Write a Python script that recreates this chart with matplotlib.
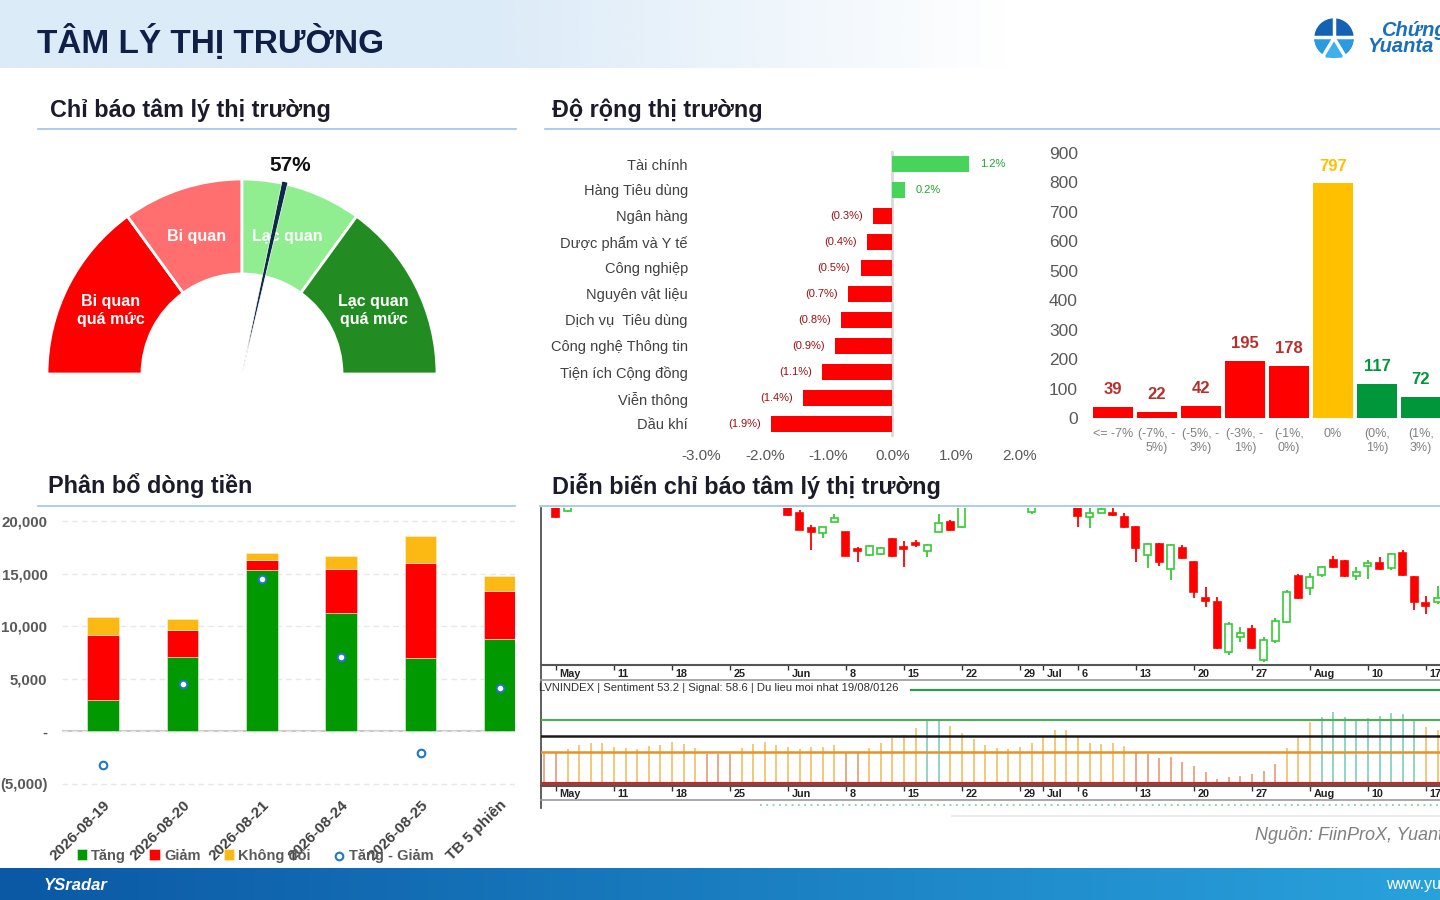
import numpy as np
import matplotlib
matplotlib.use("Agg")
import matplotlib.pyplot as plt
from matplotlib.patches import Wedge, Polygon, Circle
from matplotlib.ticker import FuncFormatter
from matplotlib.colors import to_rgb

plt.rcParams['font.family'] = ['Liberation Sans', 'DejaVu Sans']
plt.rcParams['axes.facecolor'] = 'none'

W, H = 1440, 900

# ---------------------------------------------------------------
# Data
# ---------------------------------------------------------------

# sentiment gauge (percent)
gauge_bounds = [0, 30, 50, 70, 100]
gauge_labels = ["Bi quan\nquá mức", "Bi quan", "Lạc quan", "Lạc quan\nquá mức"]
gauge_value = 57

# sector breadth (% change)
sectors = ["Tài chính", "Hàng Tiêu dùng", "Ngân hàng", "Dược phẩm và Y tế",
           "Công nghiệp", "Nguyên vật liệu", "Dịch vụ  Tiêu dùng",
           "Công nghệ Thông tin", "Tiện ích Cộng đồng", "Viễn thông", "Dầu khí"]
sector_change = [1.2, 0.2, -0.3, -0.4, -0.5, -0.7, -0.8, -0.9, -1.1, -1.4, -1.9]

# number of stocks per price-change range
range_labels = ["<= -7%", "(-7%, -\n5%)", "(-5%, -\n3%)", "(-3%, -\n1%)",
                "(-1%,\n0%)", "0%", "(0%,\n1%)", "(1%,\n3%)"]
range_counts = [39, 22, 42, 195, 178, 797, 117, 72]

# money flow (billion VND)
flow_labels = ["2026-08-19", "2026-08-20", "2026-08-21", "2026-08-24",
               "2026-08-25", "TB 5 phiên"]
flow_up = [3000, 7070, 15380, 11210, 6940, 8730]
flow_down = [6170, 2610, 960, 4270, 9050, 4650]
flow_flat = [1720, 960, 600, 1240, 2640, 1400]
flow_net = [-3250, 4490, 14520, 7100, -2070, 4110]

# VNINDEX candles (trading-day index, OHLC)
candle_day = [0, 1, 20, 21, 22, 23, 24, 25, 26, 27, 28, 29, 30, 31, 32, 33, 34, 35,
              41, 45, 46, 47, 48, 49, 50, 51, 52, 53, 54, 55, 56, 57, 58, 59, 60,
              61, 62, 63, 64, 65, 66, 67, 68, 69, 70, 71, 72, 73, 74, 75, 76]
candle_open = [1300, 1289, 1300, 1287, 1272, 1267, 1278, 1268, 1251, 1245, 1246, 1261,
               1253, 1257, 1249, 1268, 1278, 1273, 1288, 1295, 1283, 1287, 1287, 1283,
               1273, 1245, 1256, 1231, 1252, 1238, 1202, 1198, 1148, 1163, 1171, 1140,
               1159, 1178, 1224, 1212, 1225, 1240, 1239, 1224, 1234, 1237, 1232, 1247,
               1223, 1197, 1198]
candle_high = [1305, 1300, 1304, 1290, 1275, 1273, 1286, 1268, 1253, 1255, 1253, 1262,
               1259, 1260, 1256, 1286, 1280, 1300, 1296, 1298, 1292, 1294, 1292, 1287,
               1274, 1257, 1257, 1256, 1255, 1239, 1213, 1203, 1178, 1173, 1175, 1163,
               1182, 1210, 1226, 1227, 1234, 1244, 1240, 1233, 1240, 1243, 1247, 1250,
               1224, 1204, 1214]
candle_low = [1282, 1288, 1284, 1270, 1250, 1262, 1278, 1244, 1238, 1244, 1245, 1243,
              1233, 1253, 1243, 1268, 1269, 1272, 1286, 1273, 1272, 1286, 1284, 1272,
              1238, 1232, 1234, 1220, 1241, 1202, 1193, 1151, 1145, 1158, 1151, 1138,
              1157, 1177, 1201, 1205, 1223, 1232, 1223, 1220, 1221, 1230, 1230, 1224,
              1190, 1186, 1196]
candle_close = [1283, 1295, 1285, 1270, 1268, 1273, 1282, 1244, 1249, 1254, 1252, 1244,
                1251, 1255, 1255, 1277, 1270, 1295, 1294, 1284, 1287, 1291, 1285, 1273,
                1252, 1256, 1238, 1255, 1242, 1208, 1199, 1152, 1176, 1167, 1152, 1160,
                1179, 1208, 1202, 1223, 1233, 1233, 1224, 1228, 1237, 1231, 1246, 1225,
                1198, 1194, 1202]

# sentiment indicator (one value per trading day, starting at day -1)
sent_start = -1
sent_values = [37.5, 39, 44, 49, 51, 51, 46, 45, 44, 47.5, 49, 52.5, 50, 45, 37.5, 37.5,
               37.5, 45, 50, 52.5, 49, 46, 44, 46, 46, 49, 39, 39, 45, 51, 57.5, 61,
               70, 81, 81, 72.5, 64, 56, 49, 45, 44, 46, 51, 60, 67.5, 67.5, 59, 51,
               50, 51, 47.5, 39, 37.5, 32.5, 34, 27.5, 22.5, 15, 6, 9, 10, 12.5, 16,
               25, 45, 60, 78, 84, 90, 84, 81, 82, 85, 89, 87.5, 81, 71, 67.5]
sent_levels = [80, 60, 40, 0]

tick_days = [0, 5, 10, 15, 20, 25, 30, 35, 40, 42, 45, 50, 55, 60, 65, 70, 75]
tick_labels = ["May", "11", "18", "25", "Jun", "8", "15", "22", "29", "Jul",
               "6", "13", "20", "27", "Aug", "10", "17"]

# ---------------------------------------------------------------
# Helpers
# ---------------------------------------------------------------

def px_axes(fig, x0, y0, x1, y1, **kw):
    return fig.add_axes([x0 / W, 1 - y1 / H, (x1 - x0) / W, (y1 - y0) / H], **kw)


def hide_spines(ax):
    for s in ax.spines.values():
        s.set_visible(False)

# ---------------------------------------------------------------
# Page background, header, footer, section titles
# ---------------------------------------------------------------

def draw_page(fig):
    bg = px_axes(fig, 0, 0, W, H, zorder=-1)

    # header band fading to white
    n = 400
    xs = np.linspace(0, W, n)
    img = np.zeros((1, n, 4))
    img[..., :3] = to_rgb('#dcebf8')
    img[0, :, 3] = np.clip((1010 - xs) / 520, 0, 1)
    bg.imshow(img, extent=(0, W, 68, 0), aspect='auto', interpolation='bilinear')

    # footer band
    c0, c1 = np.array(to_rgb('#0b58a4')), np.array(to_rgb('#29a2dc'))
    t = np.linspace(0, 1, n)[:, None]
    foot = (c0 * (1 - t) + c1 * t)[None, :, :]
    bg.imshow(foot, extent=(0, W, 900, 868), aspect='auto', interpolation='bilinear')

    bg.set_xlim(0, W)
    bg.set_ylim(H, 0)
    bg.axis('off')

    bg.text(37, 42, "TÂM LÝ THỊ TRƯỜNG", fontsize=24, fontweight='bold',
            color='#0f1f45', va='center')

    # logo
    bg.add_patch(Circle((1334, 38), 19, color='#1462b4'))
    bg.add_patch(Wedge((1334, 38), 19, 0, 180, color='#2a9be0'))
    bg.plot([1334, 1334], [18, 37], color='white', lw=2.5)
    bg.plot([1314, 1354], [37, 37], color='white', lw=2.5)
    bg.plot([1322, 1334, 1346], [58, 38, 58], color='white', lw=2.5)
    bg.add_patch(Polygon([(1334, 42), (1326, 57), (1342, 57)], color='#3fb0ec'))
    bg.text(1381, 30, "Chứng", fontsize=14.5, fontweight='bold', style='italic',
            color='#1a6fc0', va='center')
    bg.text(1367, 47, "Yuanta", fontsize=14.5, fontweight='bold', style='italic',
            color='#1a6fc0', va='center')

    # section titles
    titles = [(50, 110, 38, 516, 129, "Chỉ báo tâm lý thị trường"),
              (552, 110, 545, 1440, 129, "Độ rộng thị trường"),
              (48, 486, 38, 515, 506, "Phân bổ dòng tiền"),
              (552, 486, 540, 1440, 506, "Diễn biến chỉ báo tâm lý thị trường")]
    for tx, ty, lx0, lx1, ly, txt in titles:
        bg.text(tx, ty, txt, fontsize=16.8, fontweight='bold', color='#1b1b2b', va='center')
        bg.plot([lx0, lx1], [ly, ly], color='#9dc3e6', lw=1.2)

    # sentiment chart frame pieces
    bg.plot([541, 541], [508, 808], color='#444444', lw=1.2)
    bg.plot([911, W], [690, 690], color='#2e9e4e', lw=1.6)
    bg.plot([760, W], [805, 805], color='#7fd3a0', lw=1.3, ls=(0, (1, 2.5)))
    bg.text(539, 688, "LVNINDEX | Sentiment 53.2 | Signal: 58.6 | Du lieu moi nhat 19/08/0126",
            fontsize=8.1, color='#303030', va='center')

    # source and footer text
    bg.plot([952, W], [816, 816], color='#ebebeb', lw=1.5)
    bg.text(1255, 835, "Nguồn: FiinProX, Yuanta", fontsize=13, style='italic',
            color='#808080', va='center')
    bg.text(44, 886, "YSradar", fontsize=12, fontweight='bold', style='italic',
            color='white', va='center')
    bg.text(1386, 885, "www.yuanta", fontsize=11.5, color='white', va='center')

# ---------------------------------------------------------------
# Sentiment gauge
# ---------------------------------------------------------------

def draw_gauge(fig):
    ax = px_axes(fig, 30, 140, 460, 390)
    ax.set_xlim(-212, 218)
    ax.set_ylim(-16, 234)
    ax.axis('off')

    colors = ['#ff0000', '#ff6f6f', '#90ee90', '#228b22']
    r_out, r_in = 195, 100
    for i, label in enumerate(gauge_labels):
        a0 = 180 - gauge_bounds[i + 1] * 1.8
        a1 = 180 - gauge_bounds[i] * 1.8
        ax.add_patch(Wedge((0, 0), r_out, a0, a1, width=r_out - r_in,
                           facecolor=colors[i], edgecolor='white', lw=2))
        mid = np.deg2rad((a0 + a1) / 2)
        rm = (r_out + r_in) / 2
        ax.text(rm * np.cos(mid), rm * np.sin(mid) - 3, label, ha='center', va='center',
                color='white', fontsize=11.5, fontweight='bold', linespacing=1.25)

    ang = np.deg2rad(180 - gauge_value * 1.8)
    d = np.array([np.cos(ang), np.sin(ang)])
    p = np.array([-np.sin(ang), np.cos(ang)])
    tip = d * 197
    ax.add_patch(Polygon([(0, 0), tip + p * 3, tip - p * 3], closed=True,
                         facecolor='#0e2a47', edgecolor='white', lw=0.5, zorder=5))
    lx, ly = d * 214
    ax.text(lx + 2, ly, f"{gauge_value}%", ha='center', va='center', fontsize=15,
            fontweight='bold', color='#111111')

# ---------------------------------------------------------------
# Sector breadth bars
# ---------------------------------------------------------------

def draw_sectors(fig):
    ax = px_axes(fig, 701, 151, 1020, 437)
    idx = np.arange(len(sectors))
    colors = ['#47d45a' if v > 0 else '#ff0000' for v in sector_change]
    ax.barh(idx, sector_change, height=0.62, color=colors, zorder=2)
    ax.axvline(0, color='#d9d9d9', lw=2, zorder=1)
    ax.set_xlim(-3, 2)
    ax.set_ylim(len(sectors) - 0.5, -0.5)
    ax.set_yticks(idx, sectors)
    ax.tick_params(axis='y', length=0, pad=9.4, labelsize=10.5, labelcolor='#404040')
    ax.set_xticks(np.arange(-3, 2.01, 1.0))
    ax.xaxis.set_major_formatter(FuncFormatter(lambda v, _: f"{v:.1f}%"))
    ax.tick_params(axis='x', length=0, pad=9, labelsize=11, labelcolor='#595959')
    hide_spines(ax)
    for i, v in enumerate(sector_change):
        if v > 0:
            ax.text(v + 0.17, i, f"{v:.1f}%", ha='left', va='center', fontsize=8,
                    color='#1fa32e')
        else:
            ax.text(v - 0.16, i, f"({abs(v):.1f}%)", ha='right', va='center',
                    fontsize=8, color='#a01010')

# ---------------------------------------------------------------
# Stocks per change range
# ---------------------------------------------------------------

def draw_ranges(fig):
    ax = px_axes(fig, 1091, 153, 1443, 418)
    idx = np.arange(len(range_counts))
    bar_colors = ['#ff0000'] * 5 + ['#ffc000'] + ['#00973a'] * 2
    text_colors = ['#b8302c'] * 5 + ['#ffc000'] + ['#00973a'] * 2
    ax.bar(idx, range_counts, width=0.93, color=bar_colors, zorder=2)
    ax.set_ylim(0, 900)
    ax.set_xlim(-0.5, len(range_counts) - 0.5)
    ax.set_yticks(np.arange(0, 901, 100))
    ax.tick_params(axis='y', length=0, pad=9.4, labelsize=12.5, labelcolor='#595959')
    ax.set_xticks(idx, range_labels)
    ax.tick_params(axis='x', length=0, pad=7, labelsize=9, labelcolor='#808080')
    hide_spines(ax)
    for i, v in enumerate(range_counts):
        ax.text(i, v + 58, str(v), ha='center', va='center', fontsize=12,
                fontweight='bold', color=text_colors[i])

# ---------------------------------------------------------------
# Money flow
# ---------------------------------------------------------------

def fmt_flow(v, _):
    if v == 0:
        return "-"
    if v < 0:
        return f"({abs(v):,.0f})"
    return f"{v:,.0f}"


def draw_flow(fig):
    ax = px_axes(fig, 62, 516, 515, 794)
    x = np.arange(len(flow_labels))
    b1 = ax.bar(x, flow_up, width=0.4, color='#009900', edgecolor='#e8f5e8', lw=0.4, zorder=2)
    b2 = ax.bar(x, flow_down, bottom=flow_up, width=0.4, color='#ff0000',
                edgecolor='#ffe0e0', lw=0.4, zorder=2)
    b3 = ax.bar(x, flow_flat, bottom=np.add(flow_up, flow_down), width=0.4,
                color='#fdb913', edgecolor='#fff3d0', lw=0.4, zorder=2)
    sc = ax.scatter(x, flow_net, s=30, facecolor='white', edgecolor='#1f77c8',
                    linewidth=1.5, zorder=4)
    ax.set_xlim(-0.52, 5.19)
    ax.set_ylim(-6000, 20500)
    ax.set_yticks([-5000, 0, 5000, 10000, 15000, 20000])
    ax.yaxis.set_major_formatter(FuncFormatter(fmt_flow))
    ax.yaxis.grid(True, color='#e8e8e8', lw=1, ls=(0, (4, 3)), zorder=0)
    ax.axhline(0, color='#c8c8c8', lw=1.5, zorder=1)
    ax.tick_params(axis='y', length=0, pad=10.5, labelsize=10.8, labelcolor='#595959')
    ax.set_xticks(x, flow_labels, rotation=45, ha='right', va='top', rotation_mode='anchor')
    ax.tick_params(axis='x', length=0, pad=3, labelsize=11, labelcolor='#404040')
    for lbl in ax.get_xticklabels() + ax.get_yticklabels():
        lbl.set_fontweight('bold')
    hide_spines(ax)

    fig.legend([b1, b2, b3, sc], ["Tăng", "Giảm", "Không đổi", "Tăng - Giảm"],
               loc='center', bbox_to_anchor=(255 / W, 1 - 855 / H), ncol=4,
               frameon=False, prop={'size': 10.5, 'weight': 'bold'},
               labelcolor='#595959', handlelength=0.7, handleheight=0.7,
               handletextpad=0.3, columnspacing=1.6)

# ---------------------------------------------------------------
# Candles + sentiment indicator
# ---------------------------------------------------------------

XL = (-1.29, 76.21)


def date_strip(fig, y0, y1):
    ax = px_axes(fig, 541, y0, W, y1)
    ax.set_xlim(XL)
    ax.set_ylim(0, 1)
    ax.set_yticks([])
    ax.set_xticks(tick_days)
    ax.tick_params(axis='x', top=True, bottom=False, direction='in', length=3.5,
                   width=1, color='#333333', labelbottom=False)
    for d, lab in zip(tick_days, tick_labels):
        ax.text(d + 0.3, 0.42, lab, ha='left', va='center', fontsize=7.8,
                fontweight='bold', color='#222222')
    ax.spines['left'].set_visible(False)
    ax.spines['right'].set_visible(False)
    ax.spines['top'].set_color('#555555')
    ax.spines['top'].set_linewidth(1.5)
    ax.spines['bottom'].set_color('#9a9a9a')
    ax.spines['bottom'].set_linewidth(1.2)


def draw_candles(fig):
    ax = px_axes(fig, 541, 508, W, 665)
    ax.set_xlim(XL)
    ax.set_ylim(1135, 1292)
    for k, o, h, l, c in zip(candle_day, candle_open, candle_high, candle_low, candle_close):
        up = c >= o
        col = '#33cc33' if up else '#ff0000'
        ax.vlines(k, l, h, color=col, lw=1.3, zorder=2)
        ax.bar(k, max(abs(c - o), 1.2), bottom=min(o, c), width=0.6,
               facecolor='white' if up else col, edgecolor=col, lw=1.2, zorder=3)
    ax.set_xticks([])
    ax.set_yticks([])
    hide_spines(ax)

    date_strip(fig, 665, 680)

    sx = px_axes(fig, 541, 697, W, 786)
    sx.set_xlim(XL)
    sx.set_ylim(-2.5, 108.75)
    days = np.arange(sent_start, sent_start + len(sent_values))
    cols = ['#86d3c3' if v >= sent_levels[0] else '#f2c46d' if v >= sent_levels[2]
            else '#eba27c' for v in sent_values]
    sx.vlines(days, 0, sent_values, colors=cols, lw=1.3, zorder=1)
    for lvl, c, lw in zip(sent_levels, ['#4caf50', '#1a1a1a', '#e8902a', '#b5332e'],
                          [1.5, 1.8, 1.8, 3.0]):
        sx.axhline(lvl, color=c, lw=lw, zorder=2)
    sx.set_xticks([])
    sx.set_yticks([])
    hide_spines(sx)

    date_strip(fig, 786, 800)

# ---------------------------------------------------------------
# Main
# ---------------------------------------------------------------

def main():
    fig = plt.figure(figsize=(W / 100, H / 100), dpi=100, facecolor='white')
    draw_page(fig)
    draw_gauge(fig)
    draw_sectors(fig)
    draw_ranges(fig)
    draw_flow(fig)
    draw_candles(fig)
    fig.savefig("out.png", dpi=100, facecolor='white')


if __name__ == "__main__":
    main()
